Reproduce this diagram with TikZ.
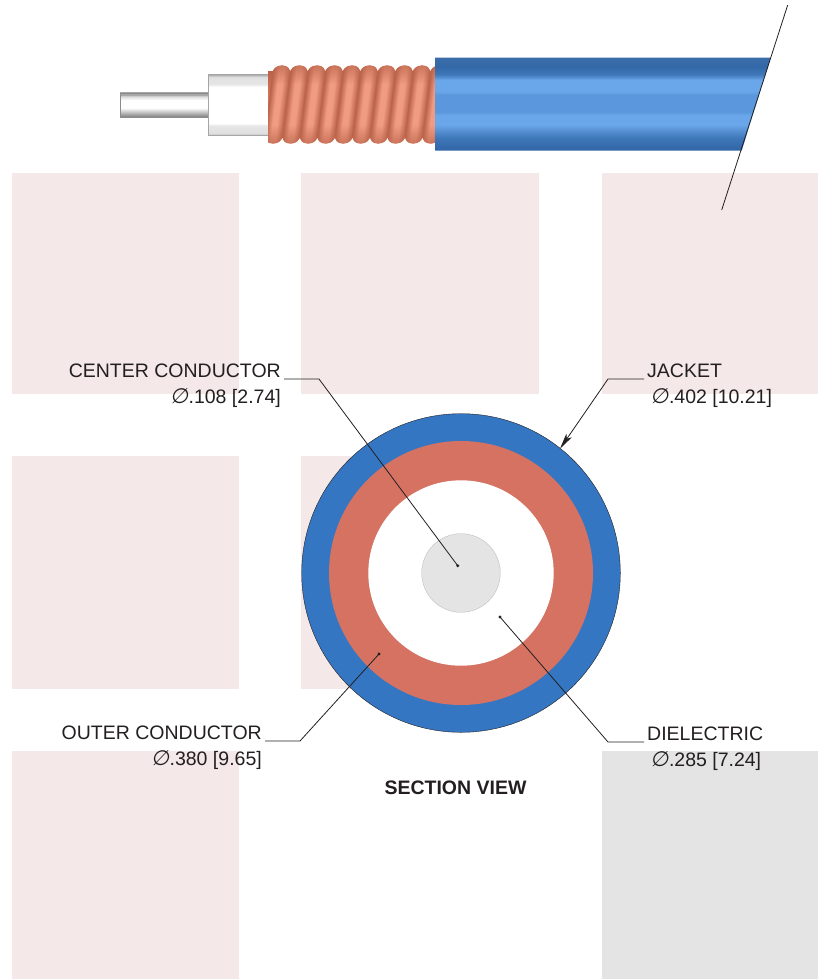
\documentclass[tikz,border=0pt]{standalone}
\usepackage{fontspec}
\setmainfont{Liberation Sans}
\newfontfamily\phifont[FakeSlant=0.15]{DejaVu Sans}
\usepackage{tikz}
\usetikzlibrary{calc,arrows.meta,fadings}

\definecolor{inkdark}{HTML}{231F20}
\definecolor{blockpink}{HTML}{F4E8E8}
\definecolor{blockgray}{HTML}{E4E4E4}
\definecolor{jacketblue}{HTML}{3476C2}
\definecolor{coppercut}{HTML}{D57261}
\definecolor{ribdark}{HTML}{BC654C}
\definecolor{ribmid}{HTML}{D9795F}
\definecolor{riblight}{HTML}{F09C82}
\definecolor{jacketa}{HTML}{3064A5}
\definecolor{jacketb}{HTML}{3F78B9}
\definecolor{jacketc}{HTML}{6AA6EA}
\definecolor{jacketd}{HTML}{5A97DC}
\definecolor{jackete}{HTML}{3369A8}
\definecolor{jacketf}{HTML}{3A6DA9}

\pgfdeclareverticalshading{jacketshade}{100bp}{
  color(0bp)=(jacketa);
  color(25bp)=(jacketa);
  color(32bp)=(jacketb);
  color(39bp)=(jacketc);
  color(44bp)=(jacketc);
  color(46bp)=(jacketd);
  color(55bp)=(jacketd);
  color(57bp)=(jacketc);
  color(63bp)=(jacketc);
  color(66bp)=(jacketb);
  color(70bp)=(jackete);
  color(75bp)=(jacketf);
  color(100bp)=(jacketf)}
\pgfdeclareverticalshading{dielectricshade}{100bp}{
  color(0bp)=(black!25!white);
  color(25bp)=(black!25!white);
  color(27bp)=(black!12!white);
  color(33bp)=(black!10!white);
  color(35bp)=(white);
  color(65bp)=(white);
  color(67bp)=(black!10!white);
  color(73bp)=(black!12!white);
  color(75bp)=(black!35!white);
  color(100bp)=(black!35!white)}
\pgfdeclareverticalshading{pinshade}{100bp}{
  color(0bp)=(black!50!white);
  color(25bp)=(black!50!white);
  color(44bp)=(white);
  color(60bp)=(white);
  color(68bp)=(black!15!white);
  color(71bp)=(black!35!white);
  color(75bp)=(black!35!white);
  color(100bp)=(black!35!white)}
\pgfdeclareverticalshading{tubeshade}{100bp}{
  color(0bp)=(ribdark);
  color(25bp)=(ribdark);
  color(50bp)=(ribmid);
  color(75bp)=(ribdark);
  color(100bp)=(ribdark)}
\pgfdeclarehorizontalshading{ribshade}{100bp}{
  color(0bp)=(ribdark);
  color(37bp)=(ribdark);
  color(46bp)=(riblight);
  color(53bp)=(riblight);
  color(63bp)=(ribdark);
  color(100bp)=(ribdark)}
\tikzfading[name=ribrim, top color=transparent!30, bottom color=transparent!100]

\tikzset{
  block/.style={fill=blockpink},
  leader/.style={draw=inkdark, line width=0.8pt},
  leaderdot/.style={circle, fill=inkdark, inner sep=0pt, minimum size=3.2pt},
  partlabel/.style={inner sep=0pt, text=inkdark, font=\fontsize{19.5}{26}\selectfont},
  ribpiece/.style={shading=ribshade, shading angle=-7}
}
\newcommand{\diam}{{\phifont\fontsize{21}{26}\selectfont\char"2205}}

\begin{document}
\begin{tikzpicture}[x=1pt,y=-1pt]
  \useasboundingbox (0,0) rectangle (818,979);

  \fill[block] (12,173) rectangle (238.5,394);
  \fill[block] (301,173) rectangle (539,394);
  \fill[block] (602,173) rectangle (818,394);
  \fill[block] (12,455.5) rectangle (238.5,689);
  \fill[block] (301,455.5) rectangle (539,689);
  \fill[block] (12,750.5) rectangle (238.5,979);
  \fill[blockgray] (602,750.5) rectangle (818,979);

  % cable side view
  \shade[shading=pinshade, draw=black!45, line width=0.3pt] (120,93) rectangle (208,117);
  \shade[shading=dielectricshade, draw=black!35, line width=0.3pt] (208,74.5) rectangle (268,135.5);

  \begin{scope}
    \clip (268,60) rectangle (440,150);
    \shade[shading=tubeshade] (268,72) rectangle (440,137);
    \foreach \i in {0,...,9} {
      \pgfmathsetmacro{\crest}{282+17.52*\i}
      \begin{scope}
        \clip[rounded corners=8pt] (\crest-9,65.5) -- (\crest+9,65.5) -- (\crest+0,143.5) -- (\crest-18,143.5) -- cycle;
        \shade[ribpiece] (\crest-9,65.5) -- (\crest+9,65.5) -- (\crest+0,143.5) -- (\crest-18,143.5) -- cycle;
        \fill[ribdark, path fading=ribrim] (\crest-20,65.5) rectangle (\crest+11,84);
        \fill[ribdark, path fading=ribrim, fading angle=180] (\crest-20,125) rectangle (\crest+11,143.5);
      \end{scope}
    }
  \end{scope}

  \coordinate (cuttop) at (787.7,5);
  \coordinate (cutbottom) at (721.7,210);
  \shade[shading=jacketshade] (435,57.7) -- (770.7,57.7) -- (741.7,150.7) -- (435,150.7) -- cycle;
  \draw[inkdark, line width=0.8pt] (cuttop) -- (cutbottom);

  % section view
  \coordinate (axis) at (461,573);
  \fill[jacketblue, draw=inkdark, line width=0.4pt] (axis) circle [radius=159.3];
  \fill[coppercut] (axis) circle [radius=132];
  \fill[white] (axis) circle [radius=92.7];
  \fill[blockgray, draw=black!25, line width=0.4pt] (axis) circle [radius=39.3];

  \node[partlabel, anchor=base east, align=right] (centerlabel) at (281,403.5) {CENTER CONDUCTOR\\\diam.108 [2.74]};
  \node[partlabel, anchor=base east, align=right] (outerlabel) at (262,765.5) {OUTER CONDUCTOR\\\diam.380 [9.65]};
  \node[partlabel, anchor=base west, align=left] (jacketlabel) at (647,403.5) {JACKET\\\hspace*{3.5pt}\diam.402 [10.21]};
  \node[partlabel, anchor=base west, align=left] (dielectriclabel) at (647,766) {DIELECTRIC\\\hspace*{3.5pt}\diam.285 [7.24]};
  \node[partlabel, font=\fontsize{19.5}{22}\selectfont\bfseries, anchor=base] (sectionlabel) at (455.5,794) {SECTION VIEW};

  \node[leaderdot] (centerdot) at (457.7,565.7) {};
  \node[leaderdot] (outerdot) at (379,654) {};
  \node[leaderdot] (dielectricdot) at (500,617) {};
  \coordinate (jackettip) at (560,448.7);

  \coordinate (centerstart) at (284,379);
  \coordinate (centerbend) at (319,379);
  \coordinate (outerstart) at (265,741);
  \coordinate (outerbend) at (300,741);
  \coordinate (jacketstart) at (644,379);
  \coordinate (jacketbend) at (608,379);
  \coordinate (dielectricstart) at (644,742);
  \coordinate (dielectricbend) at (608,742);

  \draw[leader] (centerstart) -- (centerbend) -- (centerdot.center);
  \draw[leader] (outerstart) -- (outerbend) -- (outerdot.center);
  \draw[leader] (dielectricstart) -- (dielectricbend) -- (dielectricdot.center);
  \draw[leader, -{Stealth[length=16pt,width=6.5pt,inset=4pt]}] (jacketstart) -- (jacketbend) -- (jackettip);
\end{tikzpicture}
\end{document}
